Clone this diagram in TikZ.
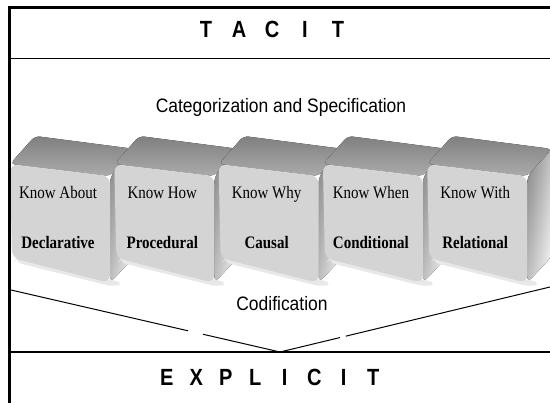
\documentclass[tikz,border=0pt]{standalone}
\usepackage{graphicx}
\usepackage{fontspec}
\setmainfont{Liberation Serif}
\setsansfont{Liberation Sans}
\usetikzlibrary{calc}
\newcommand\tall[1]{\scalebox{1}[1.17]{#1}}
\begin{document}
\begin{tikzpicture}[x=1pt,y=-1pt,
  frame/.style={line width=3.5pt, line join=miter},
  rule/.style={line width=1.6pt},
  vline/.style={line width=1pt},
  frontf/.style={fill=black!17, rounded corners=8pt},
  topf/.style={top color=black!50, bottom color=black!33, rounded corners=5pt},
  sidef/.style={left color=black!45, right color=black!4, shading angle=80, rounded corners=7pt},
  shadowf/.style={fill=black!9, rounded corners=8pt},
  know/.style={font=\fontsize{15}{18}\selectfont, inner sep=0pt, anchor=base},
  kind/.style={font=\bfseries\fontsize{15}{18}\selectfont, inner sep=0pt, anchor=base},
  caption/.style={font=\sffamily\fontsize{18}{21}\selectfont, inner sep=0pt, anchor=base},
  band/.style={font=\sffamily\bfseries\fontsize{20}{24}\selectfont, inner sep=0pt, anchor=base}]

\useasboundingbox (0,0) rectangle (550,403);
\fill[white] (0,0) rectangle (550,403);

% five rounded knowledge cubes, drawn left to right so each overlaps the previous one
\foreach \i/\ka/\kb in {0/Know About/Declarative, 1/Know How/Procedural,
                        2/Know Why/Causal, 3/Know When/Conditional,
                        4/Know With/Relational}{
  \pgfmathsetmacro\xo{10+104.3*\i}
  \begin{scope}[shift={(\xo,0)}]
    \fill[shadowf] (4,262) -- (104,287) -- (114,283) -- (8,256) -- cycle;
    \fill[topf]  (0,164) -- (25,136) -- (125,149) -- (100,176) -- cycle;
    \fill[sidef] (100,176) -- (125,149) -- (125,256) -- (100,283) -- cycle;
    \fill[frontf] (0,164) -- (100,176) -- (100,283) -- (2,258) -- cycle;
    \node[know] (know\i) at (48,199) {\tall{\ka}};
    \node[kind] (kind\i) at (48,249) {\tall{\kb}};
  \end{scope}
}

% captions
\node[caption] (cat) at (281,113) {\scalebox{0.97}[1.08]{Categorization and Specification}};
\node[caption] (cod) at (282,311) {\scalebox{0.97}[1.08]{Codification}};

% converging codification lines, each with a small break
\coordinate (vl) at (11,290);
\coordinate (apex) at (280,352);
\coordinate (vr) at (550,287);
\draw[vline] (vl) -- ($(vl)!0.658!(apex)$);
\draw[vline] ($(vl)!0.714!(apex)$) -- (apex);
\draw[vline] (apex) -- ($(apex)!0.222!(vr)$);
\draw[vline] ($(apex)!0.244!(vr)$) -- (vr);

% band separators and outer frame
\draw[rule] (11,58.5) -- (550,58.5);
\draw[rule] (11,352) -- (550,352);
\draw[frame] (9.7,403) -- (9.7,7.5) -- (550,7.5);

% band titles
\node[band] (tacit) at (272,38) {\tall{\makebox[33pt]{T}\makebox[33pt]{A}\makebox[33pt]{C}\makebox[33pt]{I}\makebox[33pt]{T}}};
\node[band] (explicit) at (270,386) {\tall{\makebox[29.5pt]{E}\makebox[29.5pt]{X}\makebox[29.5pt]{P}\makebox[29.5pt]{L}\makebox[29.5pt]{I}\makebox[29.5pt]{C}\makebox[29.5pt]{I}\makebox[29.5pt]{T}}};
\end{tikzpicture}
\end{document}
